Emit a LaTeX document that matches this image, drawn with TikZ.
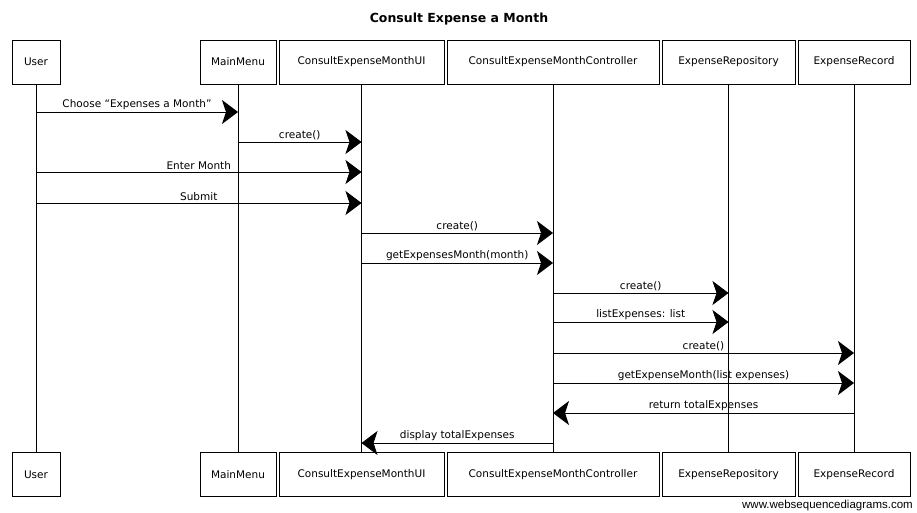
\documentclass[tikz,border=0pt]{standalone}
\usepackage{fontspec}
\setmainfont{DejaVu Sans}
\newfontfamily\footerfont{Liberation Sans}
\usetikzlibrary{arrows.meta}
\begin{document}
\begin{tikzpicture}[x=1pt,y=-1pt,
  actor/.style={draw, line width=0.8pt, minimum height=44pt, inner sep=0pt, font=\fontsize{10.5}{12}\selectfont},
  life/.style={line width=0.6pt},
  msg/.style={line width=0.9pt, -{Stealth[length=16pt,width=24pt,inset=4pt]}},
  lbl/.style={above=0pt, font=\fontsize{10.5}{12}\selectfont, inner sep=2pt}]
\useasboundingbox (0,0) rectangle (917,513);
\node[font=\bfseries\fontsize{12.5}{14}\selectfont] (title) at (459,19) {Consult Expense a Month};
% top actors
\node[actor, minimum width=48pt]  (user) at (36,62) {User};
\node[actor, minimum width=76pt]  (menu) at (238,62) {MainMenu};
\node[actor, minimum width=165pt] (ui)   at (361.5,62) {ConsultExpenseMonthUI};
\node[actor, minimum width=212pt] (ctrl) at (553,62) {ConsultExpenseMonthController};
\node[actor, minimum width=133pt] (repo) at (728.5,62) {ExpenseRepository};
\node[actor, minimum width=112pt] (rec)  at (854,62) {ExpenseRecord};
% bottom actors
\node[actor, minimum width=48pt]  (userB) at (36,474.5) {User};
\node[actor, minimum width=76pt]  (menuB) at (238,474.5) {MainMenu};
\node[actor, minimum width=165pt] (uiB)   at (361.5,474.5) {ConsultExpenseMonthUI};
\node[actor, minimum width=212pt] (ctrlB) at (553,474.5) {ConsultExpenseMonthController};
\node[actor, minimum width=133pt] (repoB) at (728.5,474.5) {ExpenseRepository};
\node[actor, minimum width=112pt] (recB)  at (854,474.5) {ExpenseRecord};
% lifelines
\draw[life] (user.south) -- (userB.north);
\draw[life] (menu.south) -- (menuB.north);
\draw[life] (ui.south) -- (uiB.north);
\draw[life] (ctrl.south) -- (ctrlB.north);
\draw[life] (repo.south) -- (repoB.north);
\draw[life] (rec.south) -- (recB.north);
% messages
\draw[msg] (user |- 0,112) -- node[lbl]{Choose ``Expenses a Month''} (menu |- 0,112);
\draw[msg] (menu |- 0,142) -- node[lbl]{create()} (ui |- 0,142);
\draw[msg] (user |- 0,172) -- node[lbl]{Enter Month} (ui |- 0,172);
\draw[msg] (user |- 0,203) -- node[lbl]{Submit} (ui |- 0,203);
\draw[msg] (ui |- 0,233) -- node[lbl]{create()} (ctrl |- 0,233);
\draw[msg] (ui |- 0,263) -- node[lbl]{getExpensesMonth(month)} (ctrl |- 0,263);
\draw[msg] (ctrl |- 0,293) -- node[lbl]{create()} (repo |- 0,293);
\draw[msg] (ctrl |- 0,322) -- node[lbl]{listExpenses: list} (repo |- 0,322);
\draw[msg] (ctrl |- 0,353) -- node[lbl]{create()} (rec |- 0,353);
\draw[msg] (ctrl |- 0,383) -- node[lbl]{getExpenseMonth(list expenses)} (rec |- 0,383);
\draw[msg] (rec |- 0,413) -- node[lbl]{return totalExpenses} (ctrl |- 0,413);
\draw[msg] (ctrl |- 0,443) -- node[lbl]{display totalExpenses} (ui |- 0,443);
% footer
\node[anchor=east, font=\footerfont\fontsize{11.5}{13}\selectfont, inner sep=0pt] (footer) at (913,506) {www.websequencediagrams.com};
\end{tikzpicture}
\end{document}
